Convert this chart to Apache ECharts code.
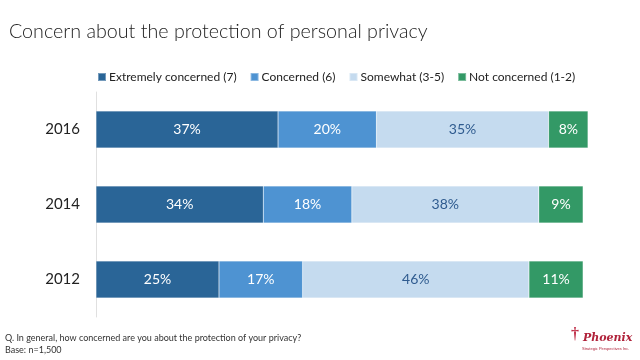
<!DOCTYPE html>
<html><head><meta charset="utf-8">
<script src="https://cdn.jsdelivr.net/npm/echarts@6/dist/echarts.min.js"></script>
<style>html,body{margin:0;padding:0;background:#fff}#c{width:640px;height:360px}</style>
</head><body><div id="c"></div>
<script>
const years = ['2016', '2014', '2012'];
const extremely = [37, 34, 25];
const concerned = [20, 18, 17];
const somewhat = [35, 38, 46];
const notConcerned = [8, 9, 11];
const seriesNames = ['Extremely concerned (7)', 'Concerned (6)', 'Somewhat (3-5)', 'Not concerned (1-2)'];
const colors = ['#2A6597', '#4E93D2', '#C5DBEF', '#339966'];
const labelColors = ['#ffffff', '#ffffff', '#2F5B8F', '#ffffff'];
const values = [extremely, concerned, somewhat, notConcerned];
const font = 'Lato, "Open Sans", sans-serif';

const chart = echarts.init(document.getElementById('c'), null, {renderer: 'canvas'});
chart.setOption({
  animation: false,
  textStyle: {fontFamily: font},
  title: {
    text: 'Concern about the protection of personal privacy',
    left: 4, top: 17,
    textStyle: {fontFamily: font, fontWeight: 300, fontSize: 19.7, color: '#222'}
  },
  legend: {
    top: 66, left: 92,
    itemWidth: 8, itemHeight: 8, itemGap: 13,
    icon: 'rect',
    textStyle: {fontFamily: font, fontSize: 12, color: '#222', padding: [0, 0, 0, -2]},
    data: seriesNames
  },
  grid: {left: 96, right: 52, top: 92, bottom: 43, containLabel: false},
  xAxis: {type: 'value', min: 0, max: 100, show: false},
  yAxis: {
    type: 'category', data: years, inverse: true,
    axisLine: {show: true, lineStyle: {color: '#e0e0e0'}},
    axisTick: {show: false},
    axisLabel: {fontFamily: font, fontSize: 15, color: '#222', margin: 16}
  },
  series: values.map((v, i) => ({
    name: seriesNames[i], type: 'bar', stack: 'all', barWidth: 37,
    data: v,
    itemStyle: {color: colors[i], borderColor: 'rgba(255,255,255,0.35)', borderWidth: 0.5},
    label: {show: true, position: 'inside', formatter: '{c}%', fontFamily: font, fontSize: 14, color: labelColors[i]}
  })),
  graphic: [
    {type: 'text', left: 5, top: 334, style: {text: 'Q. In general, how concerned are you about the protection of your privacy?', font: '9px Lato, sans-serif', fill: '#333'}},
    {type: 'text', left: 5, top: 346, style: {text: 'Base: n=1,500', font: '9px Lato, sans-serif', fill: '#333'}},
    {type: 'text', left: 583, top: 333, style: {text: 'Phoenix', font: 'italic bold 11px "DejaVu Serif", serif', fill: '#B0223A'}},
    {type: 'text', left: 582, top: 347, style: {text: 'Strategic Perspectives Inc.', font: '4px sans-serif', fill: '#B0223A'}},
    {type: 'text', left: 571, top: 327, style: {text: '\u2020', font: 'bold 16px serif', fill: '#C0304A'}}
  ]
});
</script></body></html>
